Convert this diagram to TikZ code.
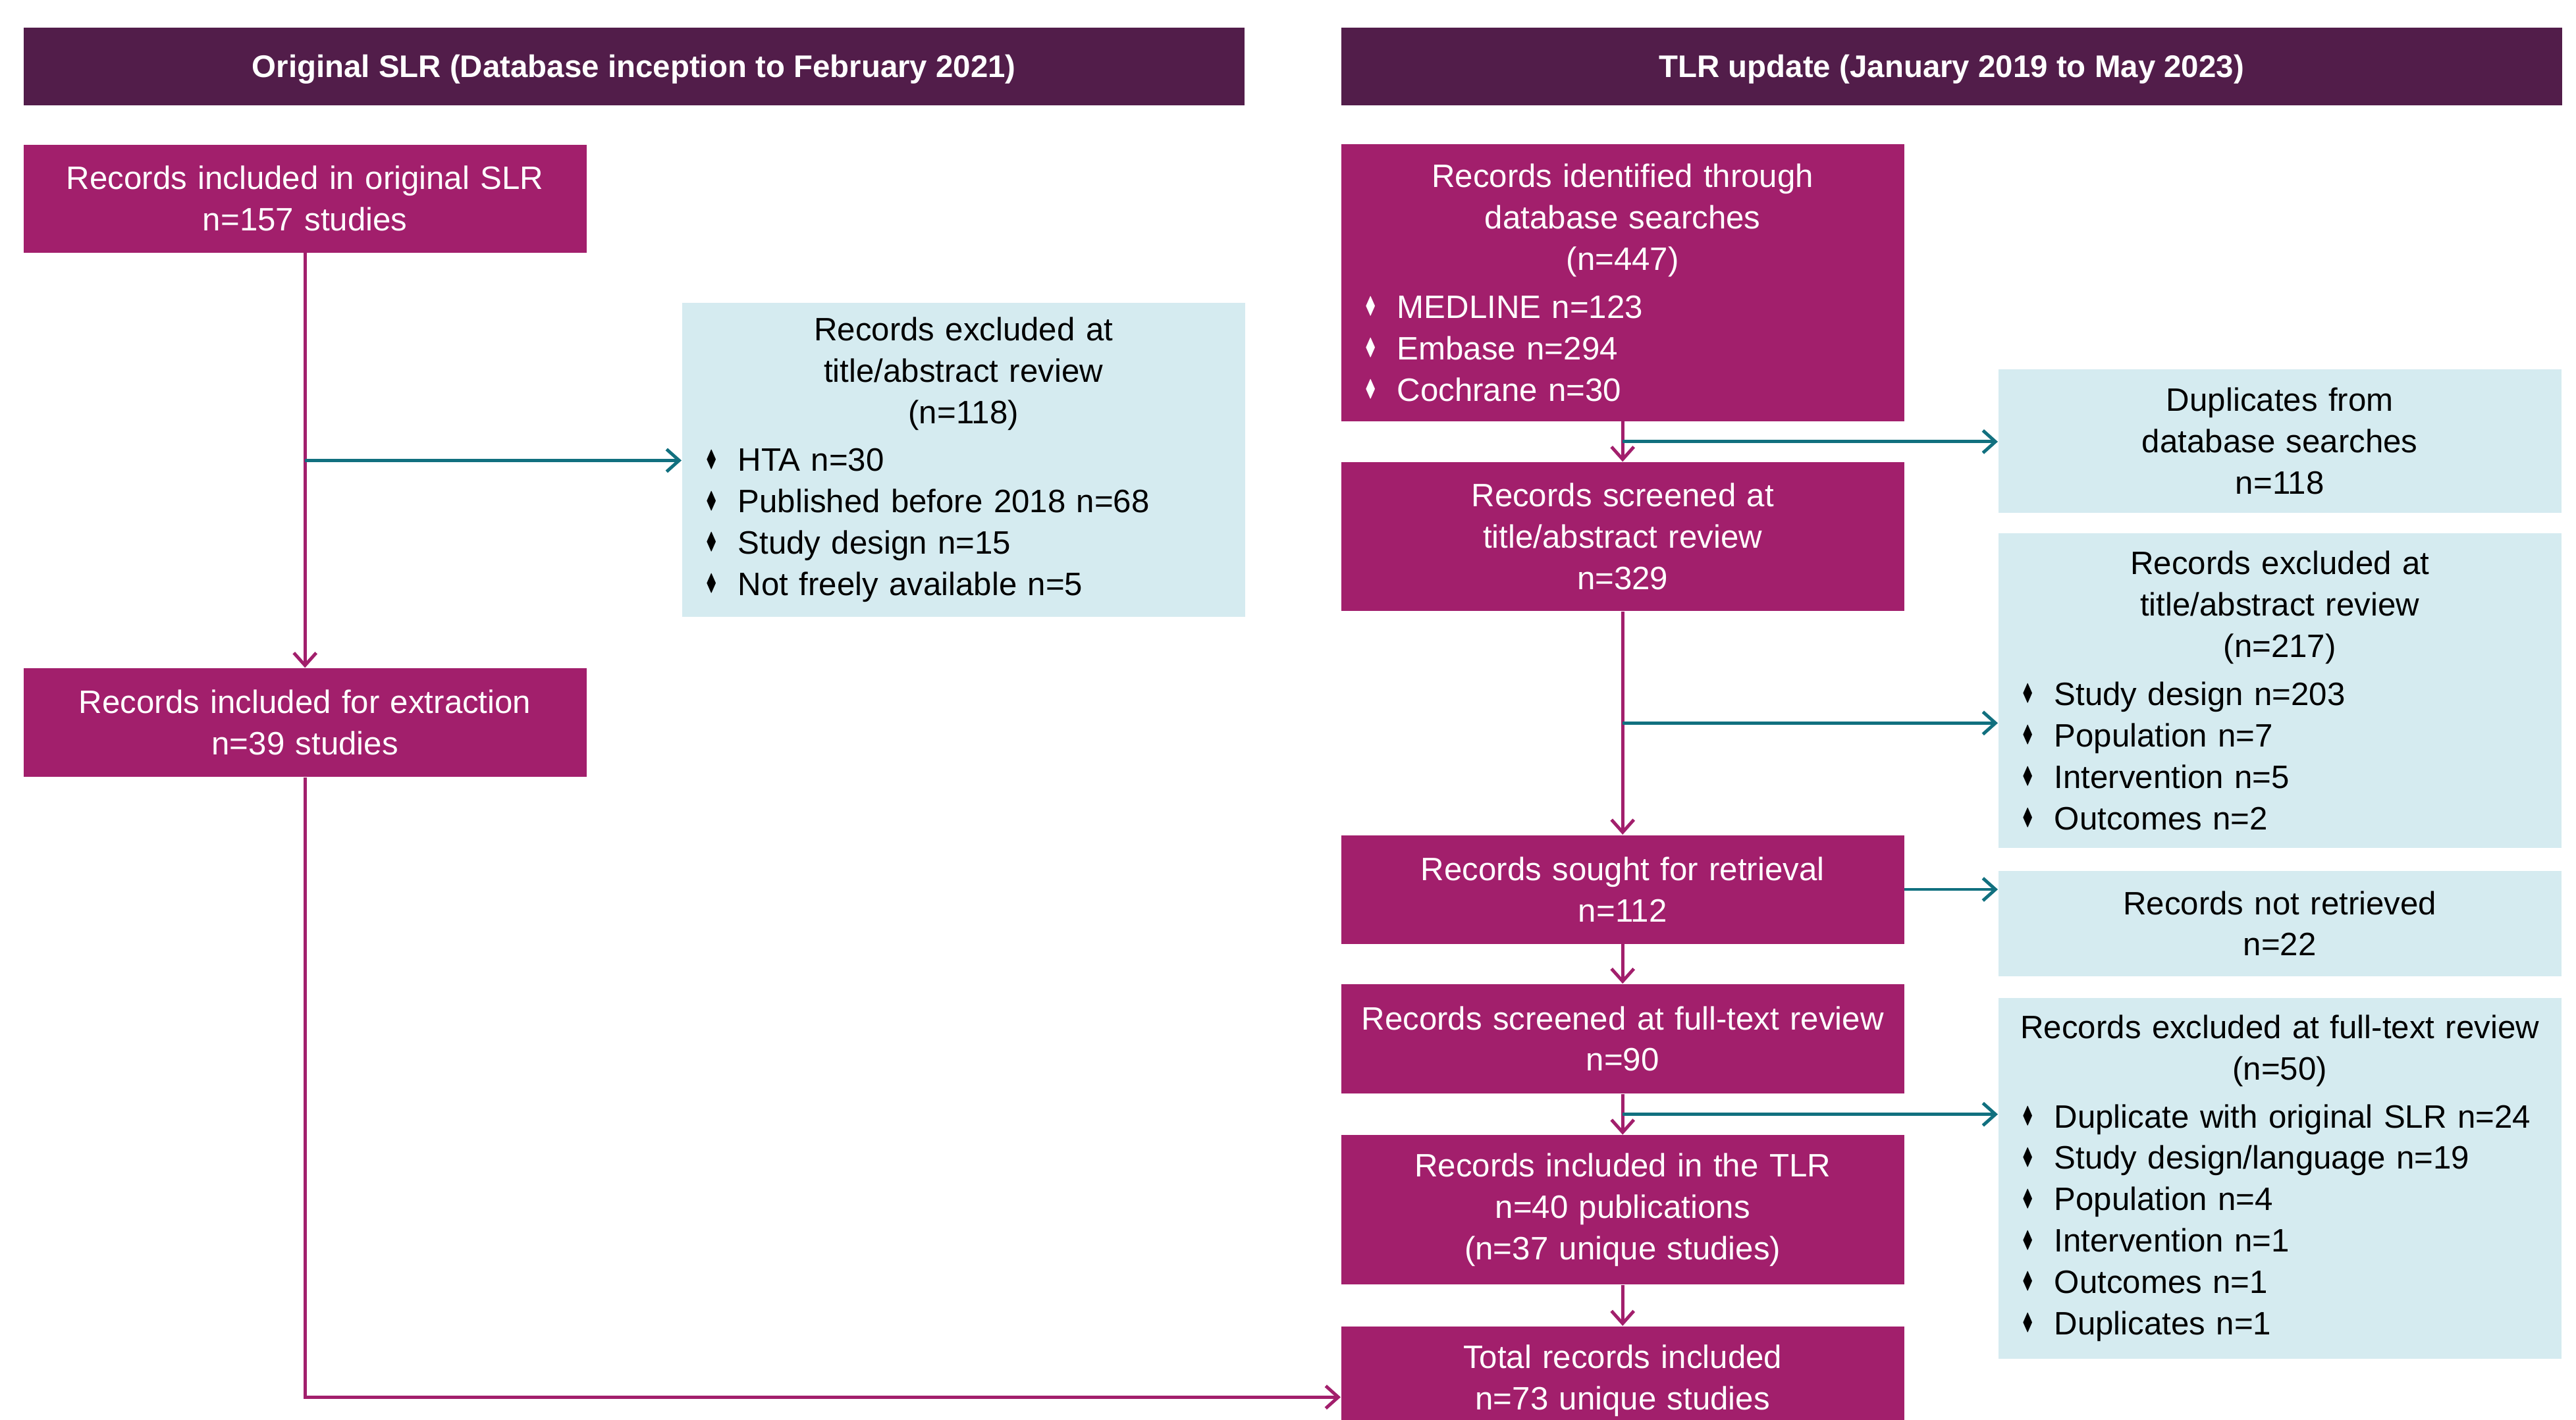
\documentclass[tikz,border=0pt]{standalone}
\usepackage{fontspec}
\setmainfont{Liberation Sans}
\usepackage{amssymb}
\usepackage{graphicx}
\usepackage{xcolor}
\usepackage{tikz}
\usetikzlibrary{arrows.meta,positioning,calc}
\definecolor{plum}{HTML}{521D4A}
\definecolor{berry}{HTML}{A21F6C}
\definecolor{pale}{HTML}{D5EBF0}
\definecolor{petrol}{HTML}{11707F}
\setlength{\parindent}{0pt}
\newcommand{\dia}{\raisebox{0.3ex}{\scalebox{0.5}[0.72]{$\blacklozenge$}}}
\newcommand{\bitem}[1]{\makebox[6.5mm][l]{\hspace{1.7mm}\dia}#1}

\begin{document}
\begin{tikzpicture}[
  x=1mm, y=-1mm,
  head/.style={fill=plum, text=white, font=\fontsize{13.5}{16}\selectfont\bfseries, minimum width=185.4mm, minimum height=11.8mm, inner sep=0pt, text height=3.4mm, text depth=0pt},
  mbox/.style={fill=berry, text=white, minimum width=85.5mm, text width=81.5mm, inner xsep=2mm, inner ysep=1mm, align=center, font=\fontsize{14}{17.9}\selectfont},
  lbox/.style={mbox, fill=pale, text=black},
  list/.style={align=left},
  marr/.style={draw=berry, line width=1.4pt, -{Straight Barb[length=1.9mm,width=3.4mm]}},
  tarr/.style={draw=petrol, line width=1.4pt, -{Straight Barb[length=1.9mm,width=3.4mm]}}
]
\useasboundingbox (0,0) rectangle (391.2,215.7);
\node[head, anchor=north west] (hl) at (3.5,4.1) {Original SLR (Database inception to February 2021)};
\node[head, anchor=north west] (hr) at (203.6,4.1) {TLR update (January 2019 to May 2023)};

\node[mbox, anchor=north west, minimum height=16.4mm] (inc) at (3.5,21.9) {Records included in original SLR\\ n=157 studies};
\node[mbox, below=63mm of inc, minimum height=16.5mm] (ext) {Records included for extraction\\ n=39 studies};
\node[lbox, list, anchor=north west, minimum height=47.7mm] (exa) at (103.5,45.9) {\centering Records excluded at\\ title/abstract review\\ (n=118)\par\vspace{1mm}\raggedright\bitem{HTA n=30}\\ \bitem{Published before 2018 n=68}\\ \bitem{Study design n=15}\\ \bitem{Not freely available n=5}};

\node[mbox, list, anchor=north west, minimum height=42.1mm] (idn) at (203.6,21.8) {\centering Records identified through\\ database searches\\ (n=447)\par\vspace{1mm}\raggedright\bitem{MEDLINE n=123}\\ \bitem{Embase n=294}\\ \bitem{Cochrane n=30}};
\node[mbox, below=6.1mm of idn, minimum height=22.6mm] (scr) {Records screened at\\ title/abstract review\\ n=329};
\node[mbox, below=33.9mm of scr, minimum height=16.5mm] (sgt) {Records sought for retrieval\\ n=112};
\node[mbox, below=6mm of sgt, minimum height=16.6mm] (ftx) {Records screened at full-text review\\ n=90};
\node[mbox, below=6.2mm of ftx, minimum height=22.7mm] (tlr) {Records included in the TLR\\ n=40 publications\\ (n=37 unique studies)};
\node[mbox, below=6.2mm of tlr, minimum height=16.5mm] (tot) {Total records included\\ n=73 unique studies};

\node[lbox, anchor=north west, minimum height=21.8mm] (dup) at (303.4,56) {Duplicates from\\ database searches\\ n=118};
\node[lbox, list, anchor=north west, minimum height=47.8mm] (exb) at (303.4,80.9) {\centering Records excluded at\\ title/abstract review\\ (n=217)\par\vspace{1mm}\raggedright\bitem{Study design n=203}\\ \bitem{Population n=7}\\ \bitem{Intervention n=5}\\ \bitem{Outcomes n=2}};
\node[lbox, anchor=north west, minimum height=16mm] (nrt) at (303.4,132.2) {Records not retrieved\\ n=22};
\node[lbox, list, anchor=north west, minimum height=54.8mm] (exf) at (303.4,151.5) {\centering Records excluded at full-text review\\ (n=50)\par\vspace{1mm}\raggedright\bitem{Duplicate with original SLR n=24}\\ \bitem{Study design/language n=19}\\ \bitem{Population n=4}\\ \bitem{Intervention n=1}\\ \bitem{Outcomes n=1}\\ \bitem{Duplicates n=1}};

\coordinate (m1) at ($(inc.south)!0.5!(ext.north)$);
\coordinate (m2) at ($(idn.south)!0.5!(scr.north)$);
\coordinate (m3) at ($(scr.south)!0.5!(sgt.north)$);
\coordinate (m4) at ($(ftx.south)!0.5!(tlr.north)$);

\draw[marr] (inc) -- (ext); \draw[marr] (ext.south) |- ([yshift=-2.5mm]tot.west);
\draw[marr] (idn) -- (scr); \draw[marr] (scr) -- (sgt); \draw[marr] (sgt) -- (ftx);
\draw[marr] (ftx) -- (tlr); \draw[marr] (tlr) -- (tot);
\draw[tarr] (m1) -- (m1 -| exa.west); \draw[tarr] (m2) -- (m2 -| dup.west);
\draw[tarr] (m3) -- (m3 -| exb.west); \draw[tarr] (m4) -- (m4 -| exf.west);
\draw[tarr] (sgt.east) -- (sgt.east -| nrt.west);
\end{tikzpicture}
\end{document}
